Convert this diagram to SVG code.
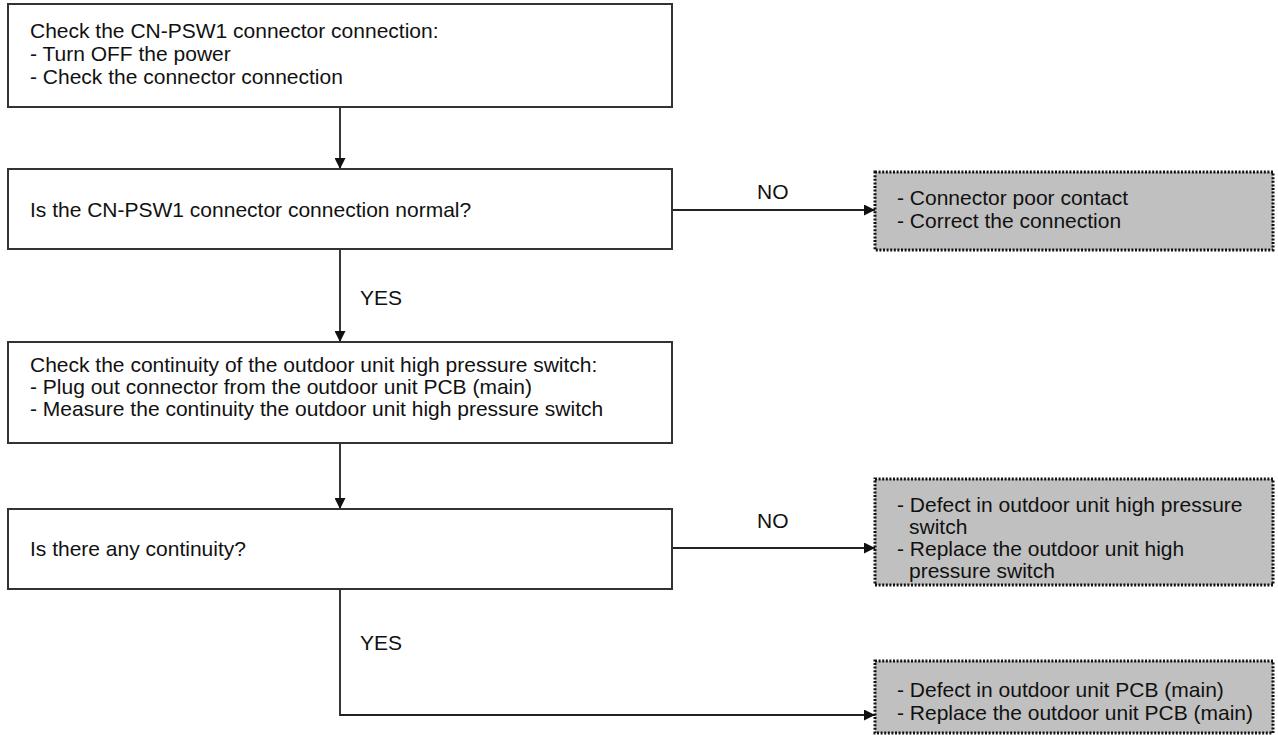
<svg xmlns="http://www.w3.org/2000/svg" width="1278" height="735" viewBox="0 0 1278 735">
  <defs>
    <marker id="arrow" viewBox="0 0 10 10" refX="10" refY="5" markerWidth="11" markerHeight="11" markerUnits="userSpaceOnUse" orient="auto">
      <path d="M0,0 L10,5 L0,10 Z" fill="#111"/>
    </marker>
    <style>
      text { font-family: "Liberation Sans", Arial, sans-serif; font-size: 21px; fill: #111; }
      .step { fill: #fff; stroke: #333; stroke-width: 2; }
      .result { fill: #c0c0c0; stroke: #111; stroke-width: 3; stroke-dasharray: 2 1.6; }
      .conn { fill: none; stroke: #222; stroke-width: 1.8; }
    </style>
  </defs>
  <rect width="1278" height="735" fill="#fff"/>

  <g id="connectors">
    <line class="conn" x1="340" y1="107" x2="340" y2="169" marker-end="url(#arrow)"/>
    <line class="conn" x1="672" y1="210" x2="875" y2="210" marker-end="url(#arrow)"/>
    <text x="757" y="199">NO</text>
    <line class="conn" x1="340" y1="249" x2="340" y2="342" marker-end="url(#arrow)"/>
    <text x="360" y="305">YES</text>
    <line class="conn" x1="340" y1="443" x2="340" y2="509" marker-end="url(#arrow)"/>
    <line class="conn" x1="672" y1="548" x2="875" y2="548" marker-end="url(#arrow)"/>
    <text x="757" y="528">NO</text>
    <polyline class="conn" points="340,589 340,715 875,715" marker-end="url(#arrow)"/>
    <text x="360" y="650">YES</text>
  </g>

  <g id="check-connector">
    <rect class="step" x="8" y="4" width="664" height="103"/>
    <text x="30" y="38">Check the CN-PSW1 connector connection:</text>
    <text x="30" y="61">- Turn OFF the power</text>
    <text x="30" y="84">- Check the connector connection</text>
  </g>

  <g id="connection-normal">
    <rect class="step" x="8" y="169" width="664" height="80"/>
    <text x="30" y="217">Is the CN-PSW1 connector connection normal?</text>
  </g>

  <g id="poor-contact">
    <rect class="result" x="875" y="172" width="398" height="78"/>
    <text x="897" y="205">- Connector poor contact</text>
    <text x="897" y="228">- Correct the connection</text>
  </g>

  <g id="check-continuity">
    <rect class="step" x="8" y="342" width="664" height="101"/>
    <text x="30" y="372">Check the continuity of the outdoor unit high pressure switch:</text>
    <text x="30" y="394">- Plug out connector from the outdoor unit PCB (main)</text>
    <text x="30" y="416">- Measure the continuity the outdoor unit high pressure switch</text>
  </g>

  <g id="any-continuity">
    <rect class="step" x="8" y="509" width="664" height="80"/>
    <text x="30" y="556">Is there any continuity?</text>
  </g>

  <g id="switch-defect">
    <rect class="result" x="875" y="479" width="398" height="106"/>
    <text x="897" y="512">- Defect in outdoor unit high pressure</text>
    <text x="909" y="534">switch</text>
    <text x="897" y="556">- Replace the outdoor unit high</text>
    <text x="909" y="578">pressure switch</text>
  </g>

  <g id="pcb-defect">
    <rect class="result" x="875" y="661" width="398" height="72"/>
    <text x="897" y="697">- Defect in outdoor unit PCB (main)</text>
    <text x="897" y="720">- Replace the outdoor unit PCB (main)</text>
  </g>
</svg>
